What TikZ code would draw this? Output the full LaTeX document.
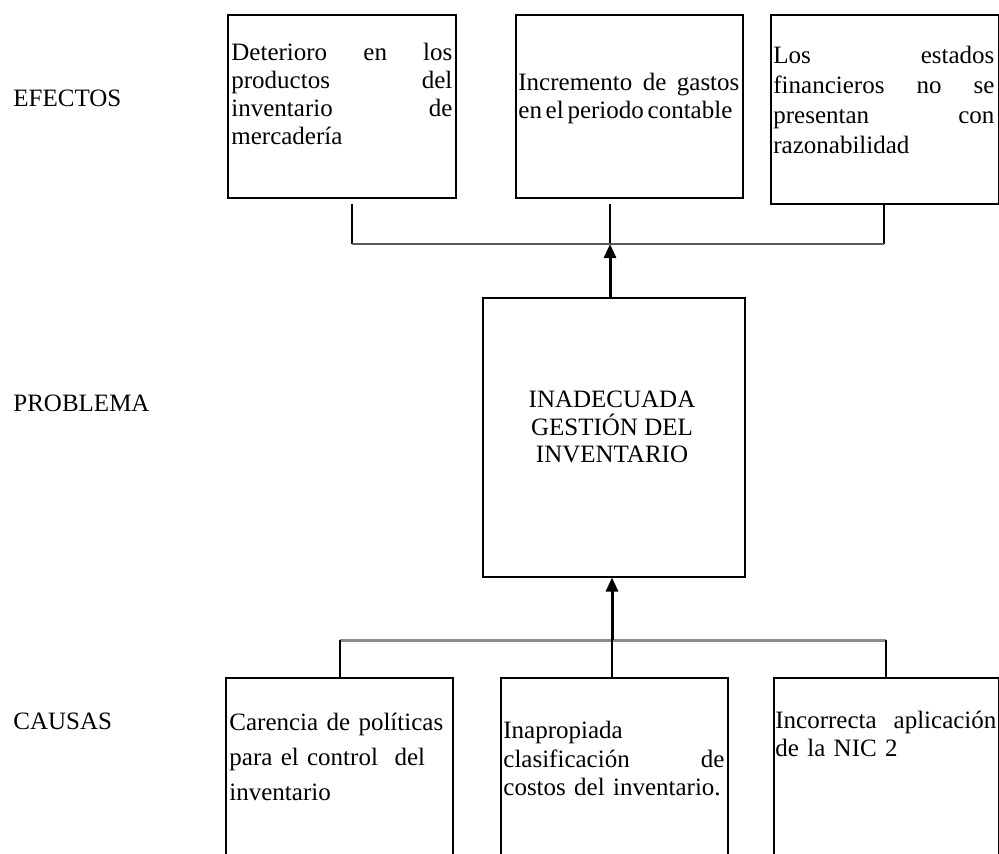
\documentclass[tikz,border=0pt]{standalone}
\usepackage{fontspec}
\setmainfont{Liberation Serif}
\usepackage{tikz}
\usetikzlibrary{arrows.meta, positioning}

\tikzset{
    caja/.style={draw, line width=0.75pt, anchor=north west, inner sep=0pt},
    texto/.style={anchor=north west, inner sep=0pt, text width=110.5pt, align=left, font=\fontsize{12.5}{14}\selectfont},
    etiqueta/.style={anchor=west, inner sep=0pt, font=\fontsize{12.5}{15}\selectfont},
    enlace/.style={line width=0.6pt},
    barra/.style={line width=1.2pt, black!65},
    flecha/.style={line width=1.5pt, -{Triangle[length=7pt, width=6pt]}}
}

\begin{document}
\begin{tikzpicture}[x=0.5pt, y=-0.5pt]
            \useasboundingbox (0,0) rectangle (999,853);
            \clip (0,0) rectangle (999,853);

            \node[etiqueta] (lefectos) at (13,98) {EFECTOS};
            \node[etiqueta] (lproblema) at (13,403) {PROBLEMA};
            \node[etiqueta] (lcausas) at (13,721) {CAUSAS};

            \node[caja, minimum width=114pt, minimum height=91.5pt] (e1) at (227,14) {};
            \node[caja, minimum width=113.5pt, minimum height=91.5pt] (e2) at (515,14) {};
            \node[caja, minimum width=114pt, minimum height=94.5pt] (e3) at (770,14) {};
            \node[texto] (te1) at (231,43) {Deterioro\hfill en\hfill los\\ productos\hfill del\\ inventario\hfill de\\ mercadería};
            \node[texto] (te2) at (518,73) {Incremento\hfill de\hfill gastos\\ \mbox{en\hspace{0.15em}el\hspace{0.15em}periodo\hspace{0.15em}contable}};
            \node[texto, font=\fontsize{12.5}{15}\selectfont] (te3) at (773,46) {Los\hfill estados\\ financieros\hfill no\hfill se\\ presentan\hfill con\\ razonabilidad};

            \node[caja, minimum width=131pt, minimum height=139.5pt] (prob) at (482,297) {};
            \node[inner sep=0pt, align=center, font=\fontsize{12.5}{13.75}\selectfont] (tprob) at (612,427) {INADECUADA\\ GESTIÓN DEL\\ INVENTARIO};

            \node[caja, minimum width=113.5pt, minimum height=100pt] (c1) at (225,677) {};
            \node[caja, minimum width=113.5pt, minimum height=100pt] (c2) at (500,677) {};
            \node[caja, minimum width=112.5pt, minimum height=100pt] (c3) at (773,677) {};
            \node[texto, font=\fontsize{12.5}{17.5}\selectfont] (tc1) at (229,713) {Carencia de políticas\\ para el control\ \ del\\ inventario};
            \node[texto, font=\fontsize{12.5}{14.25}\selectfont] (tc2) at (503,721) {Inapropiada\\ clasificación\hfill de\\ costos del inventario.};
            \node[texto] (tc3) at (775,711) {Incorrecta\hfill aplicación\\ de la NIC 2};

            \coordinate (ebL) at (352,244);
            \coordinate (ebM) at (610,244);
            \coordinate (ebR) at (884,244);
            \coordinate (cbL) at (340,640);
            \coordinate (cbM) at (612,640);
            \coordinate (cbR) at (886,640);

            \draw[enlace, shorten <=2.5pt] (e1.south -| ebL) -- (ebL);
            \draw[enlace, shorten <=2.5pt] (e2.south -| ebM) -- (ebM);
            \draw[enlace] (e3.south -| ebR) -- (ebR);
            \draw[barra] (ebL) -- (ebR);
            \draw[flecha] (prob.north -| ebM) -- (ebM);

            \draw[barra, black!45, line width=1.5pt] (cbL) -- (cbR);
            \draw[enlace] (cbL) -- (c1.north -| cbL);
            \draw[enlace] (cbM) -- (c2.north -| cbM);
            \draw[enlace] (cbR) -- (c3.north -| cbR);
            \draw[flecha] (cbM) -- (prob.south -| cbM);
        \end{tikzpicture}
\end{document}
